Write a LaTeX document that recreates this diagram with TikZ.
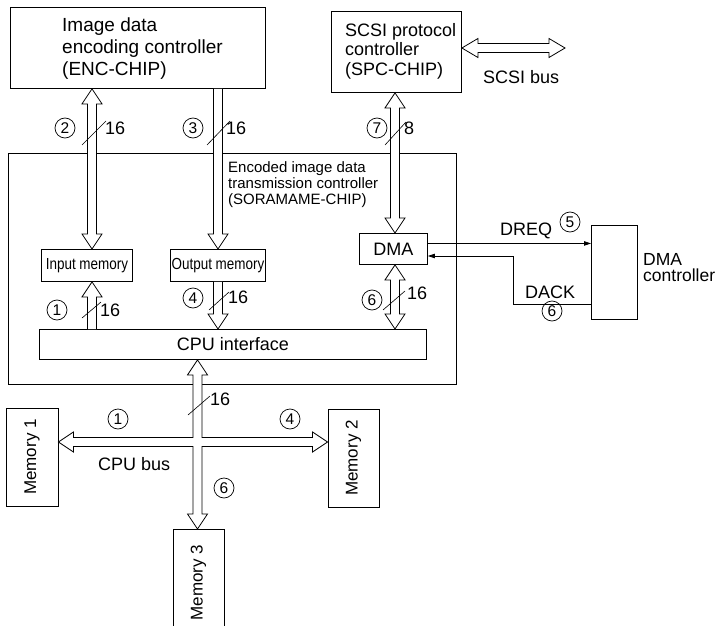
\documentclass[tikz,border=0pt]{standalone}
\usepackage{fontspec}
\setmainfont{Liberation Sans}
\newfontfamily\condf[FakeStretch=0.84]{Liberation Sans}
\usetikzlibrary{arrows.meta,calc}
\newcommand\fa{\fontsize{18pt}{20pt}\selectfont}
\newcommand\fenc{\fontsize{19pt}{21pt}\selectfont}
\newcommand\fsora{\fontsize{15pt}{16pt}\selectfont}
\newcommand\fmem{\condf\fontsize{16pt}{17pt}\selectfont}
\newcommand\fmemv{\fontsize{17pt}{18pt}\selectfont}
\newcommand\fcirc{\fontsize{15.5pt}{15.5pt}\selectfont}
% double-headed vertical bus
\newcommand\busUD[3]{\draw[bus] let \p1=(#2), \p2=(#3) in
 (#1pt,\y1) -- ({#1pt+10pt},{\y1-15pt}) -- ({#1pt+4.5pt},{\y1-15pt}) -- ({#1pt+4.5pt},{\y2+15pt}) -- ({#1pt+10pt},{\y2+15pt}) -- (#1pt,\y2) -- ({#1pt-10pt},{\y2+15pt}) -- ({#1pt-4.5pt},{\y2+15pt}) -- ({#1pt-4.5pt},{\y1-15pt}) -- ({#1pt-10pt},{\y1-15pt}) -- cycle;}
% head at top only
\newcommand\busU[3]{\draw[bus] let \p1=(#2), \p2=(#3) in
 ({#1pt+4.5pt},\y2) -- ({#1pt+4.5pt},{\y1-15pt}) -- ({#1pt+10pt},{\y1-15pt}) -- (#1pt,\y1) -- ({#1pt-10pt},{\y1-15pt}) -- ({#1pt-4.5pt},{\y1-15pt}) -- ({#1pt-4.5pt},\y2);}
% head at bottom only
\newcommand\busD[3]{\draw[bus] let \p1=(#2), \p2=(#3) in
 ({#1pt+4.5pt},\y1) -- ({#1pt+4.5pt},{\y2+15pt}) -- ({#1pt+10pt},{\y2+15pt}) -- (#1pt,\y2) -- ({#1pt-10pt},{\y2+15pt}) -- ({#1pt-4.5pt},{\y2+15pt}) -- ({#1pt-4.5pt},\y1);}
\tikzset{
 box/.style={draw, line width=0.9pt, inner sep=0pt, fill=white},
 bus/.style={draw, line width=0.8pt, fill=white, line join=miter},
 circ/.style={circle, draw, line width=0.7pt, inner sep=0pt, minimum size=20pt, font=\fcirc},
 lbl/.style={inner sep=0pt, font=\fa},
 tick/.style={line width=0.6pt},
 sig/.style={line width=0.8pt},
}
\begin{document}
\begin{tikzpicture}[x=1pt,y=-1pt]
\path[fill=white] (0,0) rectangle (720,626);
\useasboundingbox (0,0) rectangle (720,626);

% boxes
\node[box, minimum width=255pt, minimum height=81pt, anchor=north west] (enc) at (10,7) {};
\node[lbl, font=\fenc, anchor=base west] (enc1) at (62,32) {Image data};
\node[lbl, font=\fenc, anchor=base west] (enc2) at (62,54) {encoding controller};
\node[lbl, font=\fenc, anchor=base west] (enc3) at (62,76) {(ENC-CHIP)};

\node[box, minimum width=130pt, minimum height=81pt, anchor=north west] (spc) at (331,11) {};
\node[lbl, anchor=base west] (spc1) at (345,37) {SCSI protocol};
\node[lbl, anchor=base west] (spc2) at (345,56) {controller};
\node[lbl, anchor=base west] (spc3) at (345,76) {(SPC-CHIP)};

\node[box, fill=none, minimum width=448pt, minimum height=231pt, anchor=north west] (sora) at (8,153) {};
\node[lbl, font=\fsora, anchor=base west] (sora1) at (228,172) {Encoded image data};
\node[lbl, font=\fsora, anchor=base west] (sora2) at (228,188) {transmission controller};
\node[lbl, font=\fsora, anchor=base west] (sora3) at (228,204) {(SORAMAME-CHIP)};

\node[box, minimum width=91pt, minimum height=32pt, anchor=north west, font=\fmem] (inmem) at (41,249) {Input memory};
\node[box, minimum width=95pt, minimum height=32pt, anchor=north west, font=\fmem] (outmem) at (170,249) {Output memory};
\node[box, minimum width=68pt, minimum height=31pt, anchor=north west, font=\fa] (dma) at (359,233) {DMA};
\node[box, minimum width=387pt, minimum height=30pt, anchor=north west, font=\fa] (cpu) at (39,329) {CPU interface};

\node[box, minimum width=46pt, minimum height=94pt, anchor=north west] (dmac) at (591,225) {};
\node[lbl, font=\fontsize{17.5pt}{16pt}\selectfont, align=left, anchor=north west] (dmactext) at (643,253.5) {DMA\\controller};

\node[box, minimum width=52pt, minimum height=98pt, font=\fmemv] (mem1) at (32,457) {\rotatebox{90}{Memory 1}};
\node[box, minimum width=51pt, minimum height=98pt, font=\fmemv] (mem2) at (353.5,458) {\rotatebox{90}{Memory 2}};
\node[box, minimum width=51pt, minimum height=106pt, anchor=north, font=\fmemv] (mem3) at (198.5,529) {\rotatebox{90}{Memory 3}};

% buses
\busUD{92}{enc.south}{inmem.north}
\busD{218}{enc.south}{outmem.north}
\busUD{395}{spc.south}{dma.north}
\busU{92}{inmem.south}{cpu.north}
\busD{218}{outmem.south}{cpu.north}
\busUD{395}{dma.south}{cpu.north}

% SCSI bus
\coordinate (scsiend) at (565,48);
\draw[bus] let \p1=(spc.east), \p2=(scsiend) in
 (\x1,\y2) -- ({\x1+16pt},{\y2+9.5pt}) -- ({\x1+16pt},{\y2+4.5pt}) -- ({\x2-16pt},{\y2+4.5pt}) -- ({\x2-16pt},{\y2+9.5pt}) -- (\x2,\y2) -- ({\x2-16pt},{\y2-9.5pt}) -- ({\x2-16pt},{\y2-4.5pt}) -- ({\x1+16pt},{\y2-4.5pt}) -- ({\x1+16pt},{\y2-9.5pt}) -- cycle;
\node[lbl, anchor=base west] (scsibus) at (483,84) {SCSI bus};

% CPU bus cross
\coordinate (bc) at (197.5,442);
\draw[bus] let \p1=(cpu.south), \p2=(mem3.north), \p3=(mem1.east), \p4=(mem2.west), \p5=(bc) in
 (\x5,\y1) -- ({\x5+10pt},{\y1-15pt}) -- ({\x5+4.5pt},{\y1-15pt}) -- ({\x5+4.5pt},{\y5+4.5pt})
 -- ({\x4-15pt},{\y5+4.5pt}) -- ({\x4-15pt},{\y5+10pt}) -- (\x4,\y5) -- ({\x4-15pt},{\y5-10pt}) -- ({\x4-15pt},{\y5-4.5pt})
 -- ({\x5+4.5pt},{\y5-4.5pt}) -- ({\x5+4.5pt},{\y2+15pt}) -- ({\x5+10pt},{\y2+15pt}) -- (\x5,\y2) -- ({\x5-10pt},{\y2+15pt}) -- ({\x5-4.5pt},{\y2+15pt})
 -- ({\x5-4.5pt},{\y5-4.5pt}) -- ({\x3+15pt},{\y5-4.5pt}) -- ({\x3+15pt},{\y5-10pt}) -- (\x3,\y5) -- ({\x3+15pt},{\y5+10pt}) -- ({\x3+15pt},{\y5+4.5pt})
 -- ({\x5-4.5pt},{\y5+4.5pt}) -- ({\x5-4.5pt},{\y1-15pt}) -- ({\x5-10pt},{\y1-15pt}) -- cycle;
\node[lbl, anchor=base west] (cpubus) at (98,470) {CPU bus};

% DREQ / DACK
\draw[sig, -{Triangle[length=7pt,width=4.5pt]}] ([yshift=5.5pt]dma.east) -- ([yshift=5.5pt]dma.east -| dmac.west);
\node[lbl, anchor=base west] (dreq) at (500,235) {DREQ};
\node[circ] (c5) at (570,222) {5};
\coordinate (dk1) at (513,304);
\coordinate (dk2) at (513,256);
\draw[sig, -{Triangle[length=7pt,width=4.5pt]}] (dmac.west |- dk1) -- (dk1) -- (dk2) -- (dk2 -| dma.east);
\node[lbl, anchor=base west] (dack) at (525,298) {DACK};
\node[circ] (c6d) at (552,311) {6};

% bit-width labels
\node[circ] (c2) at (65,128) {2};
\draw[tick] (82,145) -- (106,121);
\node[lbl, anchor=west] (w2) at (105,128) {16};
\node[circ] (c3) at (193,128) {3};
\draw[tick] (207,145) -- (230,121);
\node[lbl, anchor=west] (w3) at (226,128) {16};
\node[circ] (c7) at (377,128) {7};
\draw[tick] (385,145) -- (406,122);
\node[lbl, anchor=west] (w7) at (404,128) {8};

\node[circ] (c1) at (57,310) {1};
\draw[tick] (82,318) -- (101,302);
\node[lbl, anchor=west] (w1) at (100,310) {16};
\node[circ] (c4) at (193,298) {4};
\draw[tick] (209,310) -- (229,292);
\node[lbl, anchor=west] (w4) at (228,297) {16};
\node[circ] (c6) at (372,300) {6};
\draw[tick] (383,310) -- (405,291);
\node[lbl, anchor=west] (w6) at (407,293) {16};

\draw[tick] (188,415) -- (210,396);
\node[lbl, anchor=west] (wb) at (210,399) {16};
\node[circ] (cb1) at (118,419) {1};
\node[circ] (cb4) at (290,419) {4};
\node[circ] (cb6) at (224,488) {6};
\end{tikzpicture}
\end{document}
